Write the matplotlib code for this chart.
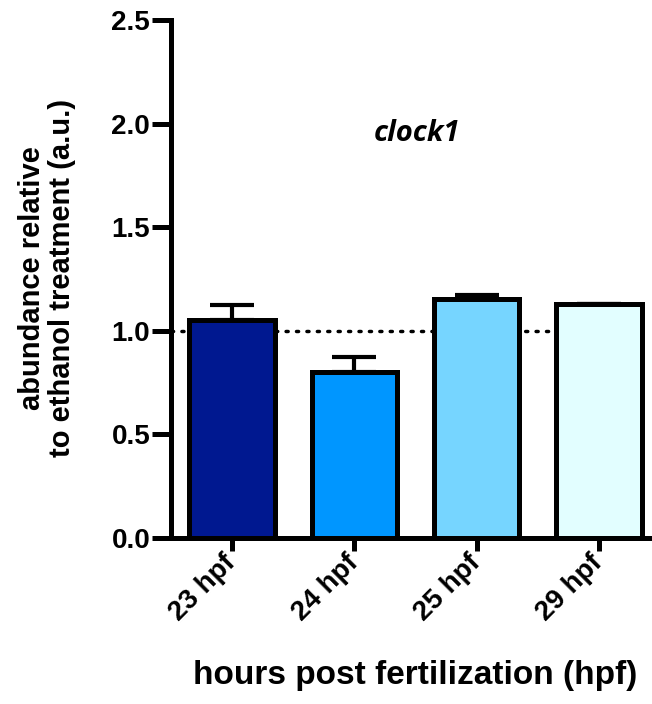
import matplotlib.pyplot as plt
import numpy as np

# data
categories = ['23 hpf', '24 hpf', '25 hpf', '29 hpf']
values = [1.05, 0.80, 1.155, 1.13]
errors_up = [0.075, 0.075, 0.02, 0.0]
colors = ['#001890', '#0096FF', '#76D5FF', '#E2FEFF']
yticks = [0.0, 0.5, 1.0, 1.5, 2.0, 2.5]

plt.rcParams['font.family'] = ['Liberation Sans', 'DejaVu Sans']

fig = plt.figure(figsize=(6.52, 7.04), dpi=100)
ax = fig.add_axes([0.2623, 0.2358, 0.735, 0.7358])

x = np.arange(len(categories))
lw = 3.6
ax.bar(x, values, width=0.7, color=colors, edgecolor='black', linewidth=lw, zorder=3)
ax.errorbar(x, values, yerr=[np.zeros(len(values)), errors_up], fmt='none',
            ecolor='black', elinewidth=3, capsize=16, capthick=3, zorder=2)

# reference level at 1.0
ax.axhline(1.0, color='black', linestyle=(0, (0.6, 2.4)), linewidth=2.5,
           dash_capstyle='round', zorder=1)

ax.set_xlim(-0.5, 3.42)
ax.set_ylim(0, 2.5)
ax.set_yticks(yticks)
ax.set_yticklabels(['%.1f' % t for t in yticks], fontsize=20, fontweight='bold')
ax.set_xticks(x)
ax.set_xticklabels(categories, fontsize=20, fontweight='bold', rotation=45,
                   ha='right', va='center', rotation_mode='anchor')

for s in ['top', 'right']:
    ax.spines[s].set_visible(False)
for s in ['left', 'bottom']:
    ax.spines[s].set_linewidth(lw)
ax.tick_params(axis='y', width=lw, length=14, direction='out', pad=1)
ax.tick_params(axis='x', width=lw, length=9, direction='out', pad=6)

fig.text(0.072, 0.605, 'abundance relative\nto ethanol treatment (a.u.)', fontsize=21,
         fontweight='bold', rotation=90, ha='center', va='center', linespacing=1.1)
fig.text(0.64, 0.81, 'clock1', fontsize=21, fontweight='bold',
         fontstyle='italic', family=['Open Sans', 'DejaVu Sans'], ha='center', va='center')
fig.text(0.637, 0.04, 'hours post fertilization (hpf)', fontsize=24,
         fontweight='bold', ha='center', va='center')

fig.savefig('out.png', dpi=100)
